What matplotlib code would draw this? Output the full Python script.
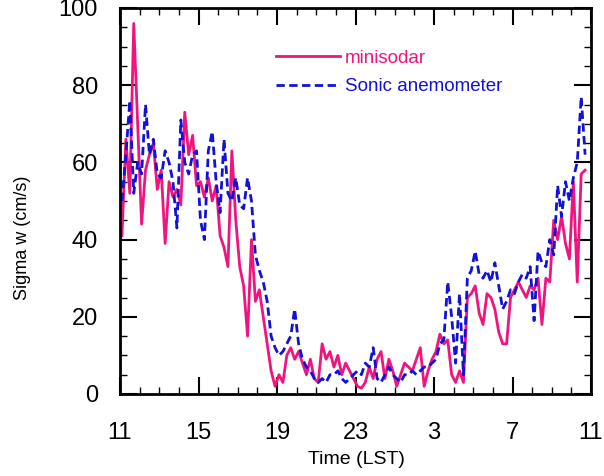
import numpy as np
import matplotlib
matplotlib.use("Agg")
import matplotlib.pyplot as plt
from matplotlib.ticker import MultipleLocator, FixedLocator

plt.rcParams['font.family'] = ['Liberation Sans', 'DejaVu Sans']

# sampling grid (hours since 00 LST of day 1), 12-minute samples
t_start = 11.1
t_step = 0.2

minisodar = [41, 66, 52, 96, 70, 44, 58, 62, 65, 53,
             58, 39, 55, 51, 53, 49, 73, 62, 67, 54,
             55, 51, 56, 50, 54, 41, 38, 33, 63, 45,
             33, 28, 15, 40, 24, 27, 20, 13, 6, 2,
             5, 3, 10, 12, 9, 11, 8, 5, 9, 4,
             3, 13, 9, 11, 7, 10, 5, 8, 6, 4,
             2, 1.5, 3, 7, 4, 9, 11, 4, 9, 6,
             2, 5, 8, 7, 6, 9, 12, 2, 6, 9,
             11, 15.5, 13, 14, 5, 3, 6, 3, 25, 26,
             28, 21, 18, 26, 25, 22, 16, 13, 13, 25,
             27, 29, 27, 25, 28, 27, 30, 18, 30, 29,
             45, 40, 46, 39, 35, 55, 29, 57, 58]

sonic = [50, 62, 76, 52, 60, 57, 75, 62, 66, 57,
         56, 63, 60, 55, 43, 71, 60, 57, 62, 63,
         45, 40, 63, 68, 55, 47, 66, 52, 50, 56,
         49, 48, 56, 50, 36, 32, 29, 24, 15, 12,
         10, 11, 13, 15, 22, 13, 9, 7, 6, 4,
         3, 4, 3, 5, 5, 6, 4, 3, 4, 5,
         6, 5, 8, 7, 12, 4, 3, 5, 7, 5,
         4, 3, 5, 5, 6, 5, 6, 7, 7, 8,
         9, 13, 14, 29, 20, 8, 26, 5, 30, 32,
         37, 31, 30, 32, 29, 34, 28, 22, 24, 27,
         26, 29, 31, 30, 33, 19, 37, 34, 33, 40,
         36, 54, 46, 55, 50, 56, 60, 77, 62]

xtick_pos = [11, 15, 19, 23, 27, 31, 35]
xtick_labels = ["11", "15", "19", "23", "3", "7", "11"]

t_m = t_start + t_step * np.arange(len(minisodar))
t_s = t_start + t_step * np.arange(len(sonic))

fig = plt.figure(figsize=(6.04, 4.76), dpi=100)
ax = fig.add_axes([120/604, 1-394/476, 471/604, 386/476])

pink = '#F0147F'
blue = '#1212D6'
ax.plot(t_m, minisodar, color=pink, lw=2.0, label='minisodar')
ax.plot(t_s, sonic, color=blue, lw=2.0, ls=(0, (3, 1.6)), label='Sonic anemometer')

ax.set_xlim(11, 35)
ax.set_ylim(0, 100)
ax.xaxis.set_major_locator(FixedLocator(xtick_pos))
ax.set_xticklabels(xtick_labels)
ax.xaxis.set_minor_locator(MultipleLocator(1))
ax.yaxis.set_major_locator(MultipleLocator(20))
ax.yaxis.set_minor_locator(MultipleLocator(5))

ax.tick_params(which='both', direction='in', top=True, right=True, colors='black')
ax.tick_params(which='major', length=12, width=1.5, labelsize=17)
ax.tick_params(axis='x', which='major', pad=20)
ax.tick_params(axis='y', which='major', pad=16)
ax.tick_params(which='minor', length=5, width=1.0)
for s in ax.spines.values():
    s.set_linewidth(2)

ax.set_xlabel('Time (LST)', fontsize=14)
ax.set_ylabel('Sigma w (cm/s)', fontsize=13)
ax.xaxis.set_label_coords(0.503, -0.148)
ax.yaxis.set_label_coords(-0.19, 0.404)

leg = ax.legend(loc='upper left', bbox_to_anchor=(0.331, 0.892), frameon=False,
                fontsize=13.5, handlelength=3.4, handletextpad=0.3,
                labelspacing=0.6, borderpad=0, borderaxespad=0,
                labelcolor='linecolor')

fig.savefig('out.png', dpi=100)
